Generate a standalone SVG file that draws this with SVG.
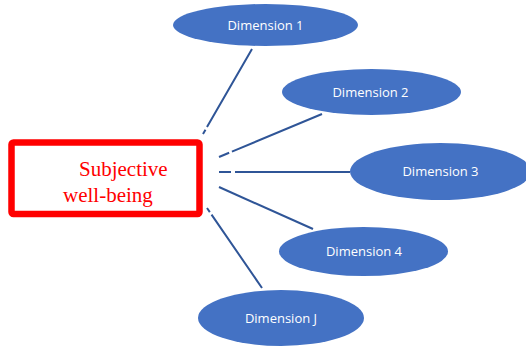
<svg xmlns="http://www.w3.org/2000/svg" width="526" height="347" viewBox="0 0 526 347">
  <style>
    .dim ellipse { fill: #4472C4; }
    .dim text { fill: #FFFFFF; font-family: "Open Sans", "Liberation Sans", Arial, sans-serif; font-size: 13px; text-anchor: middle; }
    .link { stroke: #2F5597; stroke-width: 2; fill: none; }
    .gap { stroke-dasharray: 11 3 1000; }
    .main rect { fill: #FFFFFF; stroke: #FF0000; stroke-width: 6.5; }
    .main text { fill: #FF0000; font-family: "Liberation Serif", "Times New Roman", serif; font-size: 21px; }
  </style>

  <!-- connectors from the central box to each dimension -->
  <g id="connectors">
    <line class="link gap" x1="203" y1="134" x2="252" y2="49" style="stroke-dasharray: 5 3 1000"/>
    <line class="link gap" x1="219" y1="157" x2="322" y2="114"/>
    <line class="link gap" x1="219" y1="172" x2="350" y2="172" style="stroke-dasharray: 12 4 1000"/>
    <line class="link" x1="219" y1="187" x2="313" y2="229"/>
    <line class="link gap" x1="207" y1="208" x2="262" y2="288" style="stroke-dasharray: 5 3 1000"/>
  </g>

  <g id="subjective-well-being" class="main">
    <rect x="11.5" y="142.5" width="188" height="71.5" rx="2"/>
    <text x="79" y="176">Subjective</text>
    <text x="63" y="202">well-being</text>
  </g>

  <g id="dimension-1" class="dim">
    <ellipse cx="265.5" cy="25" rx="92.5" ry="21"/>
    <text x="265.5" y="29.5">Dimension 1</text>
  </g>

  <g id="dimension-2" class="dim">
    <ellipse cx="371.5" cy="92" rx="89.5" ry="23"/>
    <text x="370.5" y="96.5">Dimension 2</text>
  </g>

  <g id="dimension-3" class="dim">
    <ellipse cx="440.5" cy="171.5" rx="90.5" ry="28.5"/>
    <text x="440.5" y="176">Dimension 3</text>
  </g>

  <g id="dimension-4" class="dim">
    <ellipse cx="363.5" cy="251.5" rx="84.5" ry="24.5"/>
    <text x="364" y="256">Dimension 4</text>
  </g>

  <g id="dimension-j" class="dim">
    <ellipse cx="281" cy="318" rx="83" ry="28"/>
    <text x="281" y="322.5">Dimension J</text>
  </g>
</svg>
